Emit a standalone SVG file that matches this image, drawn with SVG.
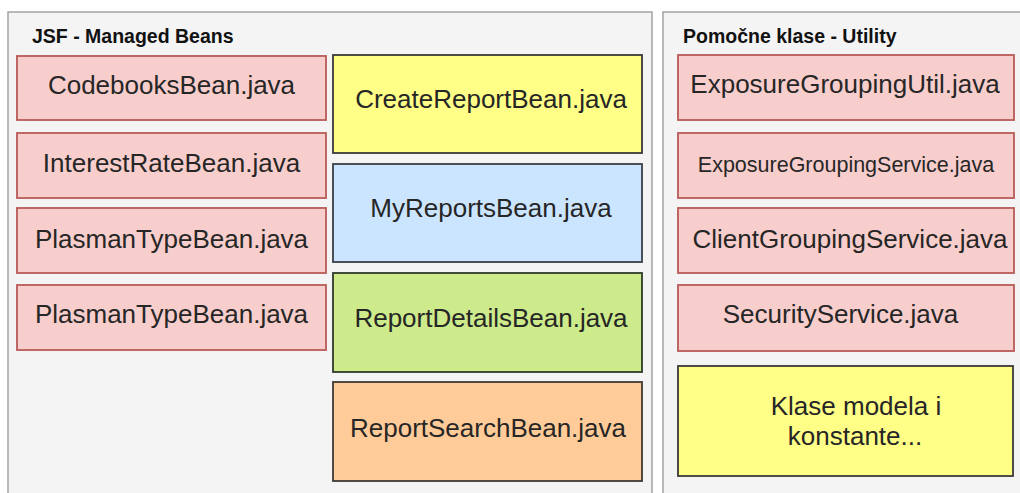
<svg xmlns="http://www.w3.org/2000/svg" width="1020" height="493" viewBox="0 0 1020 493">
<style>
text{font-family:"Liberation Sans",Arial,sans-serif;fill:#262626;text-anchor:middle}
.cont{fill:#f4f4f5;stroke:#a3a3a3;stroke-width:1.5}
.title{font-weight:bold;font-size:19.5px;text-anchor:start;fill:#111}
.lbl{font-size:26px}
.sm{font-size:21.5px}
.red{fill:#f8cecc;stroke:#b85a57;stroke-width:1.8}
.yel{fill:#ffff88;stroke:#3a3a3a;stroke-width:1.8}
.blu{fill:#cce5ff;stroke:#3a3f48;stroke-width:1.8}
.grn{fill:#cdeb8b;stroke:#2f3a2a;stroke-width:1.8}
.org{fill:#ffcc99;stroke:#3f3a34;stroke-width:1.8}
</style>
<rect x="0" y="0" width="1020" height="493" fill="#ffffff"/>
<g id="jsf-container">
<rect class="cont" x="8" y="12" width="644" height="500"/>
<text class="title" x="32" y="43">JSF - Managed Beans</text>
</g>
<g id="util-container">
<rect class="cont" x="663" y="12" width="380" height="500"/>
<text class="title" x="683" y="43">Pomočne klase - Utility</text>
</g>
<g id="codebooks"><rect class="red" x="17" y="56" width="309" height="64"/><text class="lbl" x="171.5" y="93.5">CodebooksBean.java</text></g>
<g id="interestrate"><rect class="red" x="17" y="133" width="309" height="65"/><text class="lbl" x="171.5" y="172">InterestRateBean.java</text></g>
<g id="plasman1"><rect class="red" x="17" y="208" width="309" height="65"/><text class="lbl" x="171.5" y="248">PlasmanTypeBean.java</text></g>
<g id="plasman2"><rect class="red" x="17" y="285" width="309" height="65"/><text class="lbl" x="171.5" y="323">PlasmanTypeBean.java</text></g>
<g id="createreport"><rect class="yel" x="333" y="55" width="309" height="98"/><text class="lbl" x="491" y="108">CreateReportBean.java</text></g>
<g id="myreports"><rect class="blu" x="333" y="164" width="309" height="98"/><text class="lbl" x="491" y="217">MyReportsBean.java</text></g>
<g id="reportdetails"><rect class="grn" x="333" y="273" width="309" height="99"/><text class="lbl" x="491" y="327">ReportDetailsBean.java</text></g>
<g id="reportsearch"><rect class="org" x="333" y="382" width="309" height="99"/><text class="lbl" x="488" y="437">ReportSearchBean.java</text></g>
<g id="exposureutil"><rect class="red" x="678" y="55" width="336" height="65"/><text class="lbl" x="845" y="93">ExposureGroupingUtil.java</text></g>
<g id="exposureservice"><rect class="red" x="678" y="133" width="336" height="65"/><text class="sm" x="846" y="172">ExposureGroupingService.java</text></g>
<g id="clientgrouping"><rect class="red" x="678" y="208" width="336" height="65"/><text class="lbl" x="850" y="248">ClientGroupingService.java</text></g>
<g id="security"><rect class="red" x="678" y="285" width="336" height="66"/><text class="lbl" x="840.5" y="323">SecurityService.java</text></g>
<g id="klase"><rect class="yel" x="678" y="366" width="335" height="110"/><text class="lbl" x="856" y="415">Klase modela i</text><text class="lbl" x="855" y="445">konstante...</text></g>
<g id="connectors"/>
</svg>
